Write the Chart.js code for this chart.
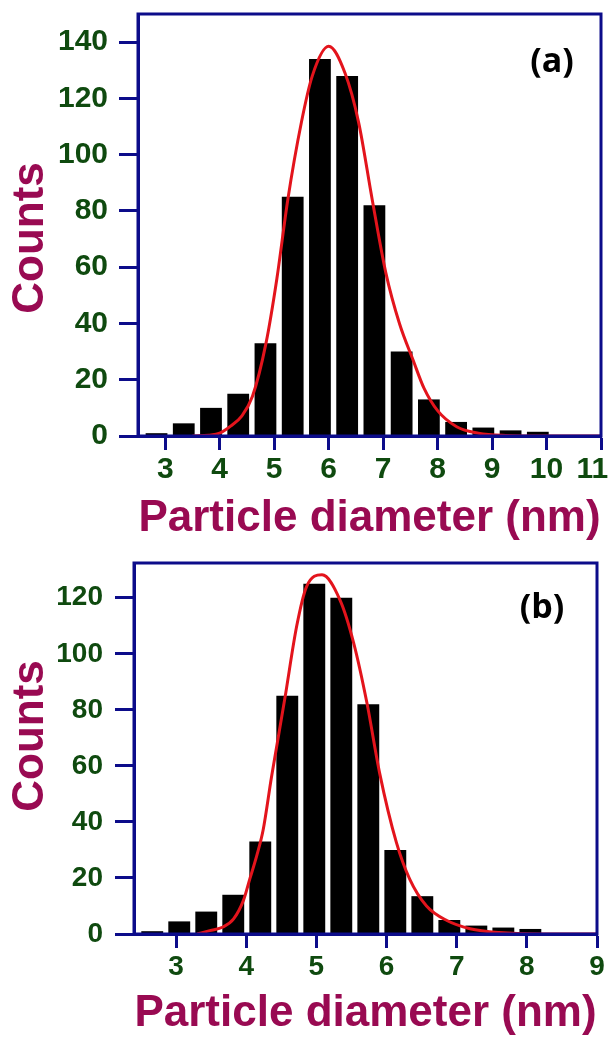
<!DOCTYPE html>
<html><head><meta charset="utf-8">
<script src="https://cdn.jsdelivr.net/npm/chart.js@4.4.1/dist/chart.umd.min.js"></script>
<style>
html,body{margin:0;padding:0;background:#fff;width:608px;height:1040px;overflow:hidden;position:relative;}
canvas{position:absolute;left:0;}
</style></head><body>
<canvas id="cA" width="640" height="545" style="top:0"></canvas>
<canvas id="cB" width="640" height="495" style="top:545px"></canvas>
<script>
// ---- Panel (a) ----
const binCentersA = [2.84, 3.34, 3.84, 4.34, 4.84, 5.34, 5.84, 6.34, 6.84, 7.34, 7.84, 8.34, 8.84, 9.34, 9.84];
const countsA     = [1, 4.5, 10, 15, 33, 85, 134, 128, 82, 30, 13, 5, 3, 2, 1.5];
const fitXA = [3.5, 3.8, 4.0, 4.2, 4.4, 4.6, 4.85, 5.05, 5.25, 5.5, 5.7, 6.0, 6.3, 6.55, 6.8, 7.05, 7.3, 7.55, 7.75, 8.0, 8.35, 8.75, 9.25, 10.0, 11.0];
const fitYA = [0, 0.3, 1, 3.5, 7, 14, 33, 56, 84, 111.5, 128, 138.5, 129, 111.5, 84, 58, 40, 27, 17, 9, 3.3, 1, 0.2, 0, 0];
const xTicksA = [3, 4, 5, 6, 7, 8, 9, 10, 11];
const yTicksA = [0, 20, 40, 60, 80, 100, 120, 140];

// ---- Panel (b) ----
const binCentersB = [2.66, 3.045, 3.43, 3.815, 4.2, 4.585, 4.97, 5.355, 5.74, 6.125, 6.51, 6.895, 7.28, 7.665, 8.05];
const countsB     = [1, 4.5, 8, 14, 33, 85, 125, 120, 82, 30, 13.5, 5, 3, 2.3, 1.8];
const fitXB = [3.3, 3.48, 3.67, 3.82, 3.96, 4.05, 4.15, 4.24, 4.36, 4.55, 4.72, 4.86, 5.08, 5.34, 5.53, 5.72, 5.9, 6.14, 6.33, 6.57, 6.86, 7.19, 7.6, 8.2, 9.0];
const fitYB = [0, 1.2, 2.5, 5.4, 12, 19.6, 28, 37, 56, 84, 110, 124, 128.2, 119, 104, 82.5, 57.6, 32.7, 19.6, 10, 4.8, 1.9, 0.5, 0, 0];
const xTicksB = [3, 4, 5, 6, 7, 8, 9];
const yTicksB = [0, 20, 40, 60, 80, 100, 120];

const NAVY = '#0c0c8a';
const GREEN = '#0f4a0f';
const MAROON = '#990a52';
const FONT = '"Liberation Sans", Arial, sans-serif';

const framePlugin = {
  id: 'frame',
  afterDatasetsDraw(chart, args, opts) {
    const {ctx, chartArea: a} = chart;
    ctx.save();
    ctx.strokeStyle = NAVY;
    ctx.lineWidth = 3;
    ctx.strokeRect(a.left, a.top, a.right - a.left, a.bottom - a.top);
    // panel label
    ctx.font = opts.font;
    ctx.fillStyle = '#000';
    ctx.textAlign = 'center';
    ctx.textBaseline = 'middle';
    ctx.fillText(opts.label, a.right - opts.dx, a.top + opts.dy);
    // y-axis title
    ctx.translate(opts.yTitleX, opts.yTitleY);
    ctx.rotate(-Math.PI / 2);
    ctx.font = 'bold 44px ' + FONT;
    ctx.fillStyle = MAROON;
    ctx.fillText('Counts', 0, 0);
    ctx.restore();
  }
};

function makeChart(id, cfg) {
  const bars = cfg.centers.map((x, i) => ({x: x, y: cfg.counts[i]}));
  const fit = cfg.fitX.map((x, i) => ({x: x, y: cfg.fitY[i]}));
  const lastTick = cfg.xTicks[cfg.xTicks.length - 1];
  return new Chart(document.getElementById(id), {
    type: 'bar',
    data: {
      datasets: [
        {type: 'line', data: fit, borderColor: '#e3141c', borderWidth: 3, pointRadius: 0,
         cubicInterpolationMode: 'monotone', fill: false, order: 0},
        {type: 'bar', data: bars, backgroundColor: '#000', borderWidth: 0,
         barPercentage: cfg.barPct, categoryPercentage: 1, order: 1}
      ]
    },
    options: {
      responsive: false,
      animation: false,
      events: [],
      layout: {autoPadding: false, padding: cfg.pad},
      plugins: {legend: {display: false}, tooltip: {enabled: false},
                frame: {label: cfg.label, font: 'bold 34px "Open Sans", sans-serif', dx: cfg.labDx, dy: cfg.labDy,
                        yTitleX: cfg.yTitleX, yTitleY: cfg.yTitleY}},
      scales: {
        x: {
          type: 'linear', min: cfg.xmin, max: cfg.xmax, offset: false,
          afterBuildTicks: s => { s.ticks = cfg.xTicks.map(v => ({value: v})); },
          afterFit: s => { s.height = cfg.xH; s.paddingLeft = 0; s.paddingRight = 0; s.paddingTop = 0; s.paddingBottom = 0; },
          grid: {display: true, drawOnChartArea: false, drawTicks: true, tickLength: 14, tickColor: NAVY, tickWidth: 3, offset: false},
          border: {display: true, color: NAVY, width: 3},
          ticks: {color: GREEN, font: {family: FONT, size: cfg.tickSize, weight: 'bold'}, padding: cfg.xPad, maxRotation: 0, autoSkip: false,
                  callback: v => (cfg.shiftLast && v === lastTick) ? String(v) + '\u2002\u200A' : String(v)},
          title: {display: true, text: 'Particle diameter (nm)', color: MAROON,
                  font: {family: FONT, size: 44, weight: 'bold'}, padding: {top: 0, bottom: cfg.xTitlePad}}
        },
        y: {
          type: 'linear', min: 0, max: cfg.ymax,
          afterBuildTicks: s => { s.ticks = cfg.yTicks.map(v => ({value: v})); },
          afterFit: s => { s.width = cfg.yW; s.paddingLeft = 0; s.paddingRight = 0; s.paddingTop = 0; s.paddingBottom = 0; },
          grid: {display: true, drawOnChartArea: false, drawTicks: true, tickLength: 19, tickColor: NAVY, tickWidth: 3},
          border: {display: true, color: NAVY, width: 3},
          ticks: {color: GREEN, font: {family: FONT, size: cfg.tickSize, weight: 'bold'}, padding: cfg.yPad, autoSkip: false},
          title: {display: false}
        }
      }
    },
    plugins: [framePlugin]
  });
}

makeChart('cA', {
  centers: binCentersA, counts: countsA, fitX: fitXA, fitY: fitYA,
  xTicks: xTicksA, yTicks: yTicksA, xmin: 2.5, xmax: 11, ymax: 150,
  barPct: 0.8, pad: {top: 14, left: 0, right: 39, bottom: 0},
  xH: 109, yW: 138, tickSize: 30, xPad: 2, yPad: 11, xTitlePad: 0, shiftLast: true,
  label: '(a)', labDx: 49, labDy: 48, yTitleX: 31, yTitleY: 238
});
makeChart('cB', {
  centers: binCentersB, counts: countsB, fitX: fitXB, fitY: fitYB,
  xTicks: xTicksB, yTicks: yTicksB, xmin: 2.4, xmax: 9, ymax: 132.4,
  barPct: 0.81, pad: {top: 18, left: 0, right: 43, bottom: 0},
  xH: 106, yW: 134, tickSize: 28, xPad: 2, yPad: 12, xTitlePad: 0, shiftLast: false,
  label: '(b)', labDx: 55, labDy: 45, yTitleX: 31, yTitleY: 191
});
</script>
</body></html>
